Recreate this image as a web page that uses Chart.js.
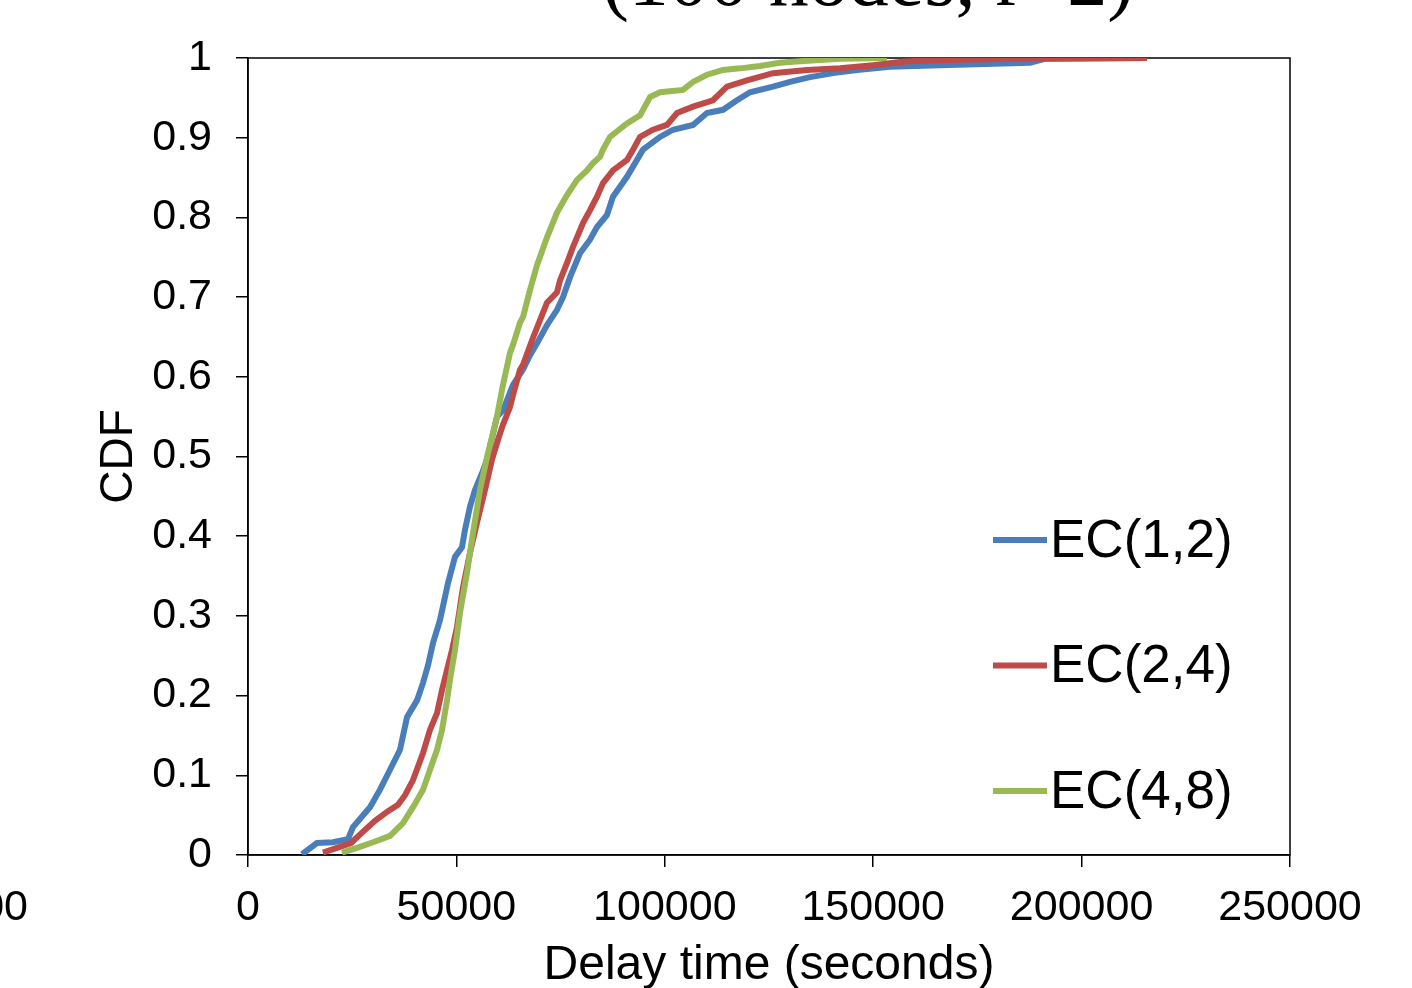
<!DOCTYPE html>
<html>
<head>
<meta charset="utf-8">
<title>CDF of delay time</title>
<script src="https://cdn.jsdelivr.net/npm/chart.js@4/dist/chart.umd.min.js"></script>
<style>
  body { margin: 0; background: #fff; }
  canvas { display: block; }
</style>
</head>
<body>
<canvas id="myChart" width="1412" height="988"></canvas>
<script>
// series names and colours
const seriesNames = ['EC(1,2)', 'EC(2,4)', 'EC(4,8)'];
const seriesColors = ['#4a7ebb', '#be4b48', '#98b954'];

// EC(1,2) - delay (s) and CDF
const ec12Delay = [12960, 16550, 20390, 23990, 25190, 29270, 31670, 34070, 36470, 38150,
  40550, 41990, 43190, 44390, 46070, 47980, 49660, 51340, 52060, 53260,
  54460, 56140, 57340, 59740, 61180, 63580, 65980, 67660, 69340, 71740,
  74140, 75580, 77260, 79650, 82050, 83730, 86130, 87570, 90930, 94770,
  98850, 101970, 106770, 110120, 113960, 117320, 120440, 125960, 130040, 134840,
  140350, 146110, 154030, 166020, 187620, 191220, 215700];
const ec12Cdf = [0.001, 0.015, 0.016, 0.020, 0.035, 0.060, 0.082, 0.107, 0.132, 0.173,
  0.194, 0.216, 0.238, 0.266, 0.295, 0.341, 0.374, 0.386, 0.408, 0.437,
  0.458, 0.479, 0.496, 0.550, 0.558, 0.590, 0.609, 0.627, 0.642, 0.665,
  0.684, 0.700, 0.725, 0.755, 0.772, 0.788, 0.803, 0.826, 0.851, 0.885,
  0.901, 0.910, 0.916, 0.931, 0.935, 0.947, 0.957, 0.964, 0.970, 0.976,
  0.981, 0.985, 0.989, 0.991, 0.994, 0.999, 1.0];

// EC(2,4)
const ec24Delay = [17990, 21350, 24710, 27350, 30470, 33590, 35990, 37670, 39590, 41990,
  43670, 45350, 46550, 47750, 48940, 50140, 51580, 53260, 54940, 56860,
  58540, 59980, 61180, 62860, 63580, 65260, 65980, 68380, 70060, 71740,
  74140, 74860, 76540, 77980, 80370, 82050, 83730, 85170, 87570, 90930,
  92370, 94050, 97170, 100530, 102930, 106770, 111560, 114920, 119720, 125960,
  134120, 142030, 149950, 156430, 161950, 184500, 215700];
const ec24Cdf = [0.003, 0.009, 0.015, 0.028, 0.043, 0.055, 0.063, 0.075, 0.094, 0.128,
  0.157, 0.178, 0.207, 0.232, 0.257, 0.286, 0.336, 0.379, 0.417, 0.458,
  0.496, 0.521, 0.540, 0.562, 0.577, 0.609, 0.615, 0.649, 0.671, 0.693,
  0.706, 0.721, 0.743, 0.763, 0.793, 0.809, 0.826, 0.843, 0.859, 0.872,
  0.885, 0.901, 0.910, 0.916, 0.931, 0.939, 0.947, 0.964, 0.972, 0.981,
  0.985, 0.987, 0.991, 0.995, 0.997, 0.999, 1.0];

// EC(4,8)
const ec48Delay = [22550, 26150, 29990, 34070, 37190, 39590, 41990, 43670, 45350, 46550,
  47750, 48460, 49660, 50860, 52540, 53980, 55660, 57340, 58060, 59740,
  61180, 62860, 63580, 65260, 65980, 67660, 69340, 71740, 74140, 76540,
  78940, 81330, 82770, 84450, 85170, 86850, 90930, 94050, 96450, 98850,
  104370, 106770, 110120, 113960, 118040, 122840, 127640, 132440, 142030, 153310];
const ec48Cdf = [0.003, 0.009, 0.016, 0.024, 0.040, 0.060, 0.082, 0.107, 0.132, 0.157,
  0.194, 0.220, 0.257, 0.304, 0.354, 0.404, 0.458, 0.499, 0.514, 0.550,
  0.590, 0.630, 0.640, 0.668, 0.675, 0.709, 0.740, 0.775, 0.806, 0.828,
  0.847, 0.859, 0.868, 0.876, 0.885, 0.901, 0.918, 0.928, 0.951, 0.957,
  0.960, 0.970, 0.979, 0.985, 0.987, 0.990, 0.994, 0.996, 0.999, 1.0];

// axis ticks
const xTicks = [0, 50000, 100000, 150000, 200000, 250000];
const yTicks = [0, 0.1, 0.2, 0.3, 0.4, 0.5, 0.6, 0.7, 0.8, 0.9, 1];

const sans = "'Liberation Sans', Arial, sans-serif";

function toPoints(xs, ys) {
    return xs.map((x, i) => ({ x: x, y: ys[i] }));
}

const allDelays = [ec12Delay, ec24Delay, ec48Delay];
const allCdfs = [ec12Cdf, ec24Cdf, ec48Cdf];

const datasets = seriesNames.map((name, i) => ({
    label: name,
    data: toPoints(allDelays[i], allCdfs[i]),
    borderColor: seriesColors[i],
    backgroundColor: seriesColors[i],
    borderWidth: 6,
    pointRadius: 0,
    showLine: true,
    tension: 0,
    order: 3 - i   // green drawn on top
}));

// box round the plot, drawn under the lines
const frame = {
    id: 'frame',
    beforeDatasetsDraw(chart) {
        const { ctx, chartArea: a } = chart;
        ctx.save();
        ctx.strokeStyle = '#000';
        ctx.lineWidth = 1.5;
        ctx.strokeRect(a.left, a.top, a.right - a.left, a.bottom - a.top);
        ctx.restore();
    }
};

// legend inside the plot, plus the cut-off title and the neighbour's label
const extras = {
    id: 'extras',
    afterDraw(chart) {
        const ctx = chart.ctx;
        ctx.save();
        ctx.textBaseline = 'middle';
        ctx.textAlign = 'left';
        ctx.font = '53px ' + sans;
        chart.data.datasets.forEach((ds, i) => {
            const y = 540 + i * 125.5;
            ctx.strokeStyle = ds.borderColor;
            ctx.lineWidth = 6;
            ctx.beginPath();
            ctx.moveTo(993, y);
            ctx.lineTo(1047, y);
            ctx.stroke();
            ctx.fillStyle = '#000';
            ctx.fillText(ds.label, 1050, y + 2);
        });

        // title, mostly above the picture
        ctx.font = "80px 'Liberation Serif', 'Times New Roman', serif";
        ctx.textAlign = 'center';
        ctx.textBaseline = 'alphabetic';
        ctx.fillText('(100 nodes, r=2)', 868, 5);

        // last tick label of the chart to the left
        ctx.font = '43px ' + sans;
        ctx.textAlign = 'right';
        ctx.textBaseline = 'middle';
        ctx.fillText('250000', 28, 908);
        ctx.restore();
    }
};

const config = {
    type: 'scatter',
    data: { datasets },
    options: {
        responsive: false,
        animation: false,
        layout: { padding: { top: 58, right: 122, left: 0, bottom: 0 } },
        plugins: {
            legend: { display: false },
            tooltip: { enabled: false }
        },
        scales: {
            x: {
                type: 'linear',
                min: 0,
                max: 250000,
                afterBuildTicks: s => { s.ticks = xTicks.map(v => ({ value: v })); },
                afterFit: s => { s.height = 133; },
                ticks: {
                    color: '#000',
                    padding: 15,
                    maxRotation: 0,
                    font: { family: sans, size: 43 },
                    callback: v => String(v)
                },
                grid: { drawOnChartArea: false, drawTicks: true, tickLength: 12, color: '#000', lineWidth: 1.5 },
                border: { display: true, color: '#000', width: 1.5 },
                title: {
                    display: true,
                    text: 'Delay time (seconds)',
                    color: '#000',
                    font: { family: sans, size: 48, lineHeight: 1 },
                    padding: { top: 0, bottom: -2 }
                }
            },
            y: {
                type: 'linear',
                min: 0,
                max: 1,
                afterBuildTicks: s => { s.ticks = yTicks.map(v => ({ value: v })); },
                afterFit: s => { s.width = 248; },
                ticks: {
                    color: '#000',
                    padding: 24,
                    font: { family: sans, size: 43 },
                    callback: v => String(+v.toFixed(1))
                },
                grid: { drawOnChartArea: false, drawTicks: true, tickLength: 12, color: '#000', lineWidth: 1.5 },
                border: { display: true, color: '#000', width: 1.5 },
                title: {
                    display: true,
                    text: 'CDF',
                    color: '#000',
                    font: { family: sans, size: 46, lineHeight: 1 },
                    padding: { top: 96, bottom: 0 }
                }
            }
        }
    },
    plugins: [frame, extras]
};

const myChart = new Chart(
    document.getElementById('myChart').getContext('2d'),
    config
);
</script>
</body>
</html>
